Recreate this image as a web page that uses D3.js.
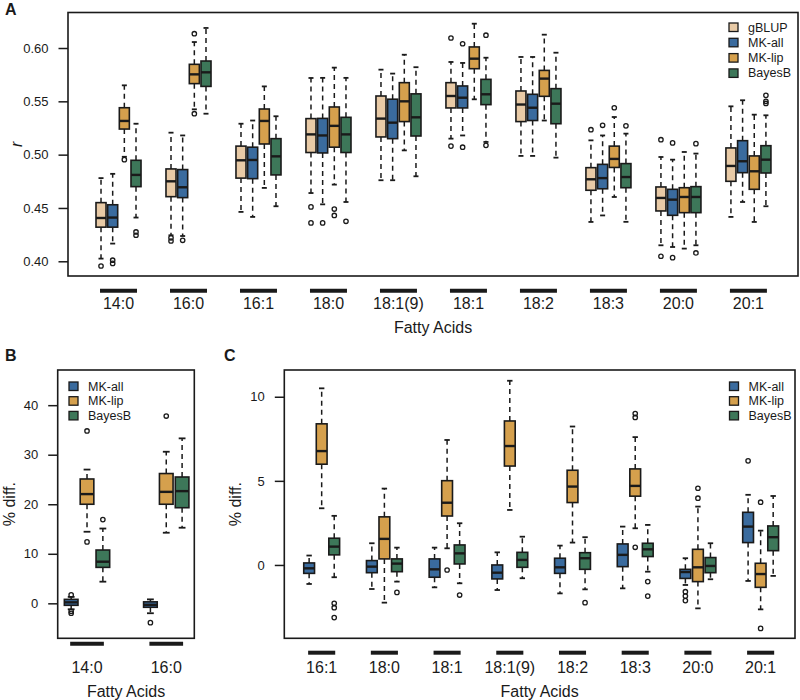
<!DOCTYPE html>
<html><head><meta charset="utf-8">
<script src="https://cdn.jsdelivr.net/npm/d3@7"></script>
<style>body{margin:0;background:#fff}svg{display:block;font-family:"Liberation Sans",Arial,sans-serif}</style>
</head><body><svg id="c" width="800" height="700"></svg>
<script>
// ---------- DATA ----------
const seriesA = ["gBLUP","MK-all","MK-lip","BayesB"];
const seriesBC = ["MK-all","MK-lip","BayesB"];
const colorOf = {"gBLUP":"#E8CAA6","MK-all":"#3A6B9E","MK-lip":"#D5A04D","BayesB":"#3D7759"};
const acidsA = ["14:0","16:0","16:1","18:0","18:1(9)","18:1","18:2","18:3","20:0","20:1"];
const acidsB = ["14:0","16:0"];
const acidsC = ["16:1","18:0","18:1","18:1(9)","18:2","18:3","20:0","20:1"];
const ticksA = [0.40,0.45,0.50,0.55,0.60];
const ticksB = [0,10,20,30,40];
const ticksC = [0,5,10];

// box stats per acid: [lower whisker, Q1, median, Q3, upper whisker]
const gBLUP_A = [[0.4025,0.432,0.4406,0.455,0.478],[0.4244,0.4606,0.475,0.4866,0.5206],[0.4463,0.478,0.4947,0.508,0.529],[0.464,0.502,0.519,0.5338,0.5719],[0.476,0.5166,0.5338,0.555,0.5797],[0.515,0.5438,0.555,0.5675,0.5869],[0.4988,0.531,0.547,0.5597,0.5916],[0.4369,0.4666,0.4769,0.4878,0.5134],[0.415,0.4472,0.4594,0.4697,0.4978],[0.4416,0.475,0.4894,0.5063,0.5453]];
const gBLUP_A_out = [[0.3956],[0.422,0.419],[],[0.451,0.436],[],[0.6094,0.508],[],[0.5234],[0.514,0.4047],[]];
const MKall_A = [[0.4166,0.432,0.441,0.453,0.482],[0.4237,0.4597,0.4694,0.486,0.518],[0.4416,0.4775,0.495,0.507,0.532],[0.4534,0.5016,0.518,0.534,0.572],[0.476,0.515,0.53,0.552,0.576],[0.518,0.5438,0.5534,0.5644,0.586],[0.4988,0.532,0.544,0.5566,0.5916],[0.443,0.468,0.478,0.4909,0.518],[0.4134,0.4431,0.4578,0.4675,0.4953],[0.4556,0.4831,0.4938,0.5131,0.551]];
const MKall_A_out = [[0.401,0.398],[0.4197],[],[0.436],[],[0.604,0.507],[],[0.5275],[0.511,0.4034],[]];
const MKlip_A = [[0.498,0.524,0.5316,0.544,0.565],[0.5425,0.5666,0.5753,0.5847,0.6056],[0.4688,0.51,0.5316,0.5428,0.564],[0.4719,0.507,0.527,0.5447,0.5816],[0.504,0.531,0.55,0.5675,0.5937],[0.5519,0.5806,0.590,0.601,0.6228],[0.532,0.5547,0.5713,0.579,0.6125],[0.4603,0.488,0.496,0.508,0.5353],[0.4119,0.4456,0.4603,0.469,0.5025],[0.4369,0.4675,0.4844,0.4988,0.5375]];
const MKlip_A_out = [[0.4953],[0.6134,0.5384],[],[0.449,0.443],[],[],[],[0.544],[],[]];
const BayesB_A = [[0.441,0.470,0.481,0.4947,0.529],[0.5384,0.564,0.5772,0.5878,0.6188],[0.4516,0.481,0.4984,0.515,0.536],[0.4556,0.502,0.519,0.535,0.572],[0.4797,0.5175,0.535,0.557,0.582],[0.5119,0.5469,0.5566,0.5706,0.5909],[0.4972,0.529,0.5478,0.5619,0.5956],[0.437,0.469,0.479,0.4916,0.5197],[0.415,0.4456,0.4603,0.470,0.501],[0.4516,0.4828,0.4953,0.5084,0.5369]];
const BayesB_A_out = [[0.4275,0.4244],[],[],[0.4375],[],[0.612,0.5087],[],[0.527],[0.5103,0.4078],[0.5556,0.55,0.548]];

const MKall_B = [[-1.2,-0.4,0.2,0.8,1.3],[-2.0,-0.8,-0.3,0.3,0.8]];
const MKall_B_out = [[1.7,-1.6,-2.0],[-3.9]];
const MKlip_B = [[14.45,20.0,22.05,25.1,27.0],[14.25,20.0,22.5,26.2,30.6]];
const MKlip_B_out = [[34.8,12.4],[37.8]];
const BayesB_B = [[4.37,7.26,8.4,10.76,15.1],[15.26,19.3,22.65,25.5,33.3]];
const BayesB_B_out = [[16.9],[]];

const MKall_C = [[-1.13,-0.5,-0.2,0.12,0.56],[-1.43,-0.46,-0.1,0.26,1.29],[-1.33,-0.73,-0.26,0.36,1.03],[-1.49,-0.83,-0.46,0.0,0.75],[-1.69,-0.5,-0.14,0.4,1.15],[-1.39,-0.1,0.6,1.25,2.28],[-1.19,-0.8,-0.42,-0.26,0.4],[-0.95,1.33,2.28,3.13,4.17]];
const MKall_C_out = [[],[],[],[],[],[],[-1.59,-1.85,-2.12],[6.19]];
const MKlip_C = [[3.37,5.99,6.77,8.39,10.5],[-2.24,0.36,1.55,2.86,4.54],[0.99,2.91,3.7,5.01,7.43],[3.27,5.88,7.07,8.56,10.95],[1.33,3.71,4.66,5.63,8.23],[2.18,4.09,4.7,5.71,7.6],[-2.58,-0.99,-0.14,0.93,3.47],[-2.64,-1.33,-0.54,0.1,2.04]];
const MKlip_C_out = [[],[],[-0.3],[],[],[9.0,8.77,1.05],[4.56,3.97],[3.73,-3.77]];
const BayesB_C = [[-0.73,0.6,1.09,1.59,2.92],[-0.99,-0.4,0.08,0.36,1.03],[-1.09,0.06,0.69,1.19,2.48],[-0.79,-0.14,0.3,0.75,1.68],[-1.45,-0.26,0.4,0.73,1.65],[-0.4,0.5,0.93,1.29,2.38],[-0.85,-0.46,-0.06,0.44,1.29],[-0.65,0.85,1.65,2.32,4.1]];
const BayesB_C_out = [[-2.28,-2.54,-3.13],[-1.63],[-1.79],[],[-2.24],[-0.99,-1.85],[],[]];

// ---------- DRAWING ----------
const svg = d3.select("#c");
const INK = "#1a1a1a";

function panel(o){
  const g = svg.append("g");
  const per = o.series.length + 2;
  const x = d3.scaleLinear().domain(o.xDomain).range([o.left,o.right]);
  const y = d3.scaleLinear().domain(o.yDomain).range([o.bottom,o.top]);
  const bw = 0.86, sw = 0.43;
  const unitPx = x(1)-x(0);
  // boxes
  o.series.forEach((s,j)=>{
    const st = o.stats[j], out = o.out[j];
    o.groups.forEach((gName,i)=>{
      const cx = x(i*per + j - (o.series.length-1)/2);
      const [lo,q1,md,q3,hi] = st[i];
      const hw = bw*unitPx/2, cw = sw*unitPx/2;
      g.append("line").attr("x1",cx).attr("x2",cx).attr("y1",y(q3)).attr("y2",y(hi))
        .attr("stroke",INK).attr("stroke-width",1.5).attr("stroke-dasharray","5,4");
      g.append("line").attr("x1",cx).attr("x2",cx).attr("y1",y(q1)).attr("y2",y(lo))
        .attr("stroke",INK).attr("stroke-width",1.5).attr("stroke-dasharray","5,4");
      [lo,hi].forEach(v=>g.append("line").attr("x1",cx-cw).attr("x2",cx+cw).attr("y1",y(v)).attr("y2",y(v))
        .attr("stroke",INK).attr("stroke-width",1.8));
      g.append("rect").attr("x",cx-hw).attr("y",y(q3)).attr("width",2*hw).attr("height",y(q1)-y(q3))
        .attr("fill",colorOf[s]).attr("stroke",INK).attr("stroke-width",1.6);
      g.append("line").attr("x1",cx-hw).attr("x2",cx+hw).attr("y1",y(md)).attr("y2",y(md))
        .attr("stroke",INK).attr("stroke-width",2.4);
      out[i].forEach(v=>g.append("circle").attr("cx",cx).attr("cy",y(v)).attr("r",2.2)
        .attr("fill","none").attr("stroke",INK).attr("stroke-width",1.3));
    });
  });
  // frame
  g.append("rect").attr("x",o.left).attr("y",o.top).attr("width",o.right-o.left).attr("height",o.bottom-o.top)
    .attr("fill","none").attr("stroke",INK).attr("stroke-width",1.6);
  // y axis
  const ya = g.append("g").attr("transform",`translate(${o.left-9.5},0)`)
    .call(d3.axisLeft(y).tickValues(o.yTicks).tickFormat(o.fmt).tickSize(0).tickPadding(10));
  ya.select(".domain").remove();
  ya.selectAll(".tick line").remove();
  ya.selectAll(".tick").append("line").attr("x1",0).attr("x2",9.5).attr("stroke",INK).attr("stroke-width",1.5);
  ya.selectAll("text").attr("font-size",13).attr("fill",INK).attr("font-family","Liberation Sans, Arial, sans-serif");
  // group bars and labels
  const span = (o.series.length-1)*unitPx + 2;
  o.groups.forEach((gName,i)=>{
    const cx = x(i*per);
    g.append("line").attr("x1",cx-span/2).attr("x2",cx+span/2).attr("y1",o.barY).attr("y2",o.barY)
      .attr("stroke",INK).attr("stroke-width",4);
    g.append("text").attr("x",cx).attr("y",o.labelY).attr("text-anchor","middle")
      .attr("font-size",16).attr("fill",INK).text(gName);
  });
  g.append("text").attr("x",(o.left+o.right)/2).attr("y",o.labelY+24).attr("text-anchor","middle")
    .attr("font-size",16).attr("fill",INK).text("Fatty Acids");
  // y title
  g.append("text").attr("transform",`translate(${o.ytX},${(o.top+o.bottom)/2}) rotate(-90)`)
    .attr("text-anchor","middle").attr("font-size",16).attr("fill",INK)
    .attr("font-style",o.ytItalic?"italic":"normal").text(o.yTitle);
  // panel letter
  g.append("text").attr("x",o.letterX).attr("y",o.letterY).attr("font-size",16).attr("font-weight","bold")
    .attr("fill",INK).text(o.letter);
  // legend
  o.series.forEach((s,j)=>{
    const ly = o.legY + j*o.legStep;
    g.append("rect").attr("x",o.legX).attr("y",ly-4).attr("width",9).attr("height",8.5)
      .attr("fill",colorOf[s]).attr("stroke",INK).attr("stroke-width",1.3);
    g.append("text").attr("x",o.legX+19).attr("y",ly+4.5).attr("font-size",12.5).attr("fill",INK).text(s);
  });
}

panel({groups:acidsA, series:seriesA, stats:[gBLUP_A,MKall_A,MKlip_A,BayesB_A],
  out:[gBLUP_A_out,MKall_A_out,MKlip_A_out,BayesB_A_out],
  left:68,right:798,top:12.5,bottom:276, xDomain:[-4.33,58.25], yDomain:[0.3862,0.6333],
  yTicks:ticksA, fmt:d3.format(".2f"), barY:290.7, labelY:309, yTitle:"r", ytItalic:true, ytX:22,
  letter:"A", letterX:5, letterY:15, legX:729, legY:27, legStep:15.3});

panel({groups:acidsB, series:seriesBC, stats:[MKall_B,MKlip_B,BayesB_B],
  out:[MKall_B_out,MKlip_B_out,BayesB_B_out],
  left:57.7,right:194.3,top:370,bottom:638.3, xDomain:[-1.85,6.77], yDomain:[-7.06,47.1],
  yTicks:ticksB, fmt:d3.format("d"), barY:643.7, labelY:672.5, yTitle:"% diff.", ytItalic:false, ytX:15,
  letter:"B", letterX:5, letterY:361, legX:69, legY:386, legStep:14.7});

panel({groups:acidsC, series:seriesBC, stats:[MKall_C,MKlip_C,BayesB_C],
  out:[MKall_C_out,MKlip_C_out,BayesB_C_out],
  left:284.3,right:795,top:370,bottom:638.3, xDomain:[-2.98,37.74], yDomain:[-4.36,11.59],
  yTicks:ticksC, fmt:d3.format("d"), barY:652.7, labelY:672.5, yTitle:"% diff.", ytItalic:false, ytX:241,
  letter:"C", letterX:224, letterY:361, legX:729.5, legY:386, legStep:14.7});
</script></body></html>
